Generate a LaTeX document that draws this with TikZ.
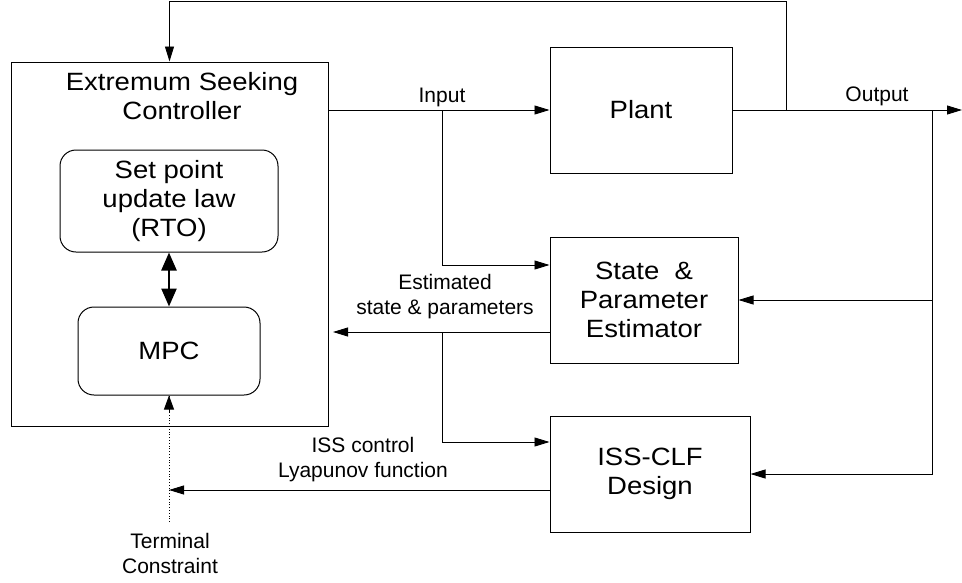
\documentclass[tikz,border=0pt]{standalone}
\usepackage{fontspec}
\setmainfont{Liberation Sans}
\newfontfamily\blockfont[FakeStretch=1.1]{Liberation Sans}
\usetikzlibrary{arrows.meta}
\tikzset{sig/.style={line width=0.9pt,-{Triangle[length=15pt,width=9pt]}}}

\begin{document}
\begin{tikzpicture}[x=1pt,y=-1pt,
    block/.style={draw,line width=1pt,inner sep=0pt,align=center,
        font=\blockfont\fontsize{25}{29}\selectfont},
    inner/.style={block,rounded corners=16pt},
    lbl/.style={align=center,font=\fontsize{21}{25}\selectfont}]
        \useasboundingbox (0,0) rectangle (962,582);
        % Blocks
        \node[block,minimum width=317pt,minimum height=364pt] (esc) at (169.5,244) {};
        \node[block,draw=none] (esctitle) at (182,96) {Extremum Seeking\\Controller};
        \node[inner,minimum width=218pt,minimum height=102pt] (rto) at (169,201)
        {Set point\\update law\\(RTO)};
        \node[inner,minimum width=182pt,minimum height=88pt] (mpc) at (169,351) {MPC};
        \node[block,minimum width=182pt,minimum height=126pt] (plant) at (641,110) {Plant};
        \node[block,minimum width=188pt,minimum height=126pt] (est) at (644,300)
        {State\ \ \&\\Parameter\\Estimator};
        \node[block,minimum width=200pt,minimum height=116pt] (iss) at (650,474)
        {ISS-CLF\\Design};
        % Branch points
        \coordinate (inbr) at (442,110);
        \coordinate (fb) at (786,110);
        \coordinate (outbr) at (932,110);
        \coordinate (out) at (962,110);
        \coordinate (estbr) at (442,332);
        \coordinate (estout) at (333,332);
        \coordinate (tc) at (169,522);
        \coordinate (tcin) at (169,490);
        \coordinate (mpcin) at (169,412);
        % Signals
        \draw[sig] (esc.east |- plant.west) -- (plant.west);
        \draw[sig] (inbr) |- (est.west |- 0,265);
        \draw[sig] (plant.east) -- (out);
        \draw[sig] (fb) -- (786,1) -| (esc.north);
        \draw[sig] (outbr) |- (est.east);
        \draw[sig] (outbr) |- (iss.east);
        \draw[sig] (est.west |- estout) -- (estout);
        \draw[sig] (estbr) |- (iss.west |- 0,442);
        \draw[sig] (iss.west |- tcin) -- (tcin);
        % Terminal constraint (dotted)
        \draw[line width=0.8pt,dotted] (tc) -- (mpc.south);
        \draw[line width=0.8pt,-{Triangle[length=14pt,width=10pt]}] (mpcin) -- (mpc.south);
        \draw[line width=2.5pt,{Triangle[length=18pt,width=15pt]}-{Triangle[length=18pt,width=15pt]}]
        (rto.south) -- (mpc.north);
        % Labels
        \node[lbl] (inlbl) at (442,97) {Input};
        \node[lbl] (outlbl) at (877,96) {Output};
        \node[lbl] (estlbl) at (445,297) {Estimated\\state \& parameters};
        \node[lbl] (clflbl) at (363,460) {ISS control\\Lyapunov function};
        \node[lbl] (tclbl) at (170,553) {Terminal\\Constraint};
    \end{tikzpicture}
\end{document}
